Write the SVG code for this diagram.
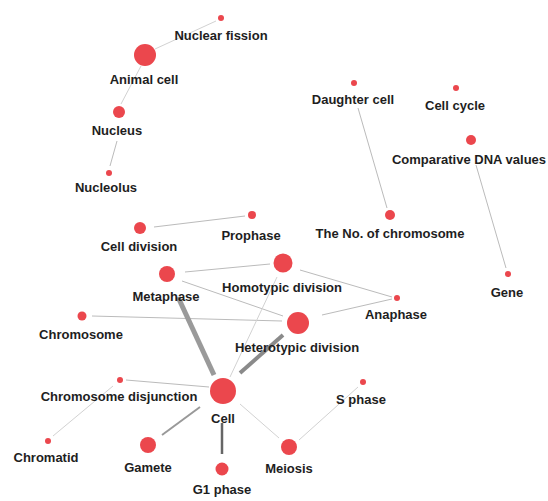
<svg xmlns="http://www.w3.org/2000/svg" width="548" height="501" viewBox="0 0 548 501">
<style>
.n{fill:#eb474d}
.t{font-family:"Liberation Sans",Arial,sans-serif;font-weight:bold;font-size:13px;fill:#1e1e1e;text-anchor:middle}
.e{stroke:#bbb;stroke-width:1;fill:none}
.f{stroke:#d2d2d2;stroke-width:1;fill:none}
</style>
<rect width="548" height="501" fill="#fff"/>
<g id="edges">
<line class="f" x1="216" y1="21" x2="155" y2="49"/>
<line class="f" x1="141" y1="66" x2="121" y2="104"/>
<line class="e" x1="117" y1="141" x2="110" y2="166"/>
<line class="e" x1="358" y1="108" x2="387" y2="208"/>
<line class="e" x1="476" y1="165" x2="506" y2="268"/>
<line class="e" x1="154" y1="227" x2="245" y2="216"/>
<line class="e" x1="185" y1="272" x2="270" y2="264"/>
<line class="e" x1="182" y1="281" x2="283" y2="316"/>
<line class="e" x1="300" y1="270" x2="392" y2="297"/>
<line class="e" x1="322" y1="315" x2="392" y2="299"/>
<line class="e" x1="92" y1="316" x2="282" y2="321"/>
<line class="f" x1="277" y1="277" x2="230" y2="377"/>
<line x1="178" y1="297" x2="214" y2="375" stroke="#9a9a9a" stroke-width="5"/>
<line x1="283" y1="335" x2="240" y2="373" stroke="#8a8a8a" stroke-width="4"/>
<line class="e" x1="126" y1="380" x2="209" y2="387"/>
<line class="f" x1="113" y1="386" x2="53" y2="436"/>
<line x1="200" y1="407" x2="162" y2="435" stroke="#999" stroke-width="2"/>
<line x1="222" y1="423" x2="222" y2="454" stroke="#666" stroke-width="2.5"/>
<line class="f" x1="240" y1="404" x2="279" y2="438"/>
<line class="f" x1="299" y1="440" x2="358" y2="387"/>
</g>
<g id="nuclear-fission"><circle class="n" cx="221" cy="18" r="3"/><text class="t" x="221" y="40">Nuclear fission</text></g>
<g id="animal-cell"><circle class="n" cx="145" cy="55" r="11"/><text class="t" x="144" y="84">Animal cell</text></g>
<g id="nucleus"><circle class="n" cx="119" cy="112" r="6"/><text class="t" x="117" y="135">Nucleus</text></g>
<g id="nucleolus"><circle class="n" cx="109" cy="173" r="3"/><text class="t" x="106" y="192">Nucleolus</text></g>
<g id="daughter-cell"><circle class="n" cx="354" cy="83" r="3"/><text class="t" x="353" y="104">Daughter cell</text></g>
<g id="cell-cycle"><circle class="n" cx="456" cy="88" r="3"/><text class="t" x="455" y="110">Cell cycle</text></g>
<g id="comparative-dna"><circle class="n" cx="471" cy="140" r="5"/><text class="t" x="469" y="164">Comparative DNA values</text></g>
<g id="no-chromosome"><circle class="n" cx="390" cy="215" r="5"/><text class="t" x="390" y="238">The No. of chromosome</text></g>
<g id="gene"><circle class="n" cx="508" cy="274" r="3"/><text class="t" x="507" y="297">Gene</text></g>
<g id="cell-division"><circle class="n" cx="140" cy="228" r="6"/><text class="t" x="139" y="251">Cell division</text></g>
<g id="prophase"><circle class="n" cx="252" cy="215" r="4"/><text class="t" x="251" y="240">Prophase</text></g>
<g id="metaphase"><circle class="n" cx="167" cy="274" r="8"/><text class="t" x="166" y="301">Metaphase</text></g>
<g id="homotypic"><circle class="n" cx="283" cy="263" r="9.5"/><text class="t" x="282" y="292">Homotypic division</text></g>
<g id="anaphase"><circle class="n" cx="397" cy="298" r="3"/><text class="t" x="396" y="319">Anaphase</text></g>
<g id="chromosome"><circle class="n" cx="82" cy="316" r="4.5"/><text class="t" x="81" y="339">Chromosome</text></g>
<g id="heterotypic"><circle class="n" cx="298" cy="323" r="11"/><text class="t" x="297" y="352">Heterotypic division</text></g>
<g id="chrom-disjunction"><circle class="n" cx="120" cy="380" r="3"/><text class="t" x="119" y="401">Chromosome disjunction</text></g>
<g id="cell"><circle class="n" cx="223" cy="391" r="13"/><text class="t" x="223" y="423">Cell</text></g>
<g id="s-phase"><circle class="n" cx="363" cy="382" r="3"/><text class="t" x="361" y="404">S phase</text></g>
<g id="chromatid"><circle class="n" cx="48" cy="441" r="3"/><text class="t" x="46" y="462">Chromatid</text></g>
<g id="gamete"><circle class="n" cx="148" cy="445" r="8"/><text class="t" x="148" y="472">Gamete</text></g>
<g id="g1-phase"><circle class="n" cx="222" cy="469" r="6.5"/><text class="t" x="222" y="494">G1 phase</text></g>
<g id="meiosis"><circle class="n" cx="289" cy="447" r="8"/><text class="t" x="289" y="473">Meiosis</text></g>
</svg>
